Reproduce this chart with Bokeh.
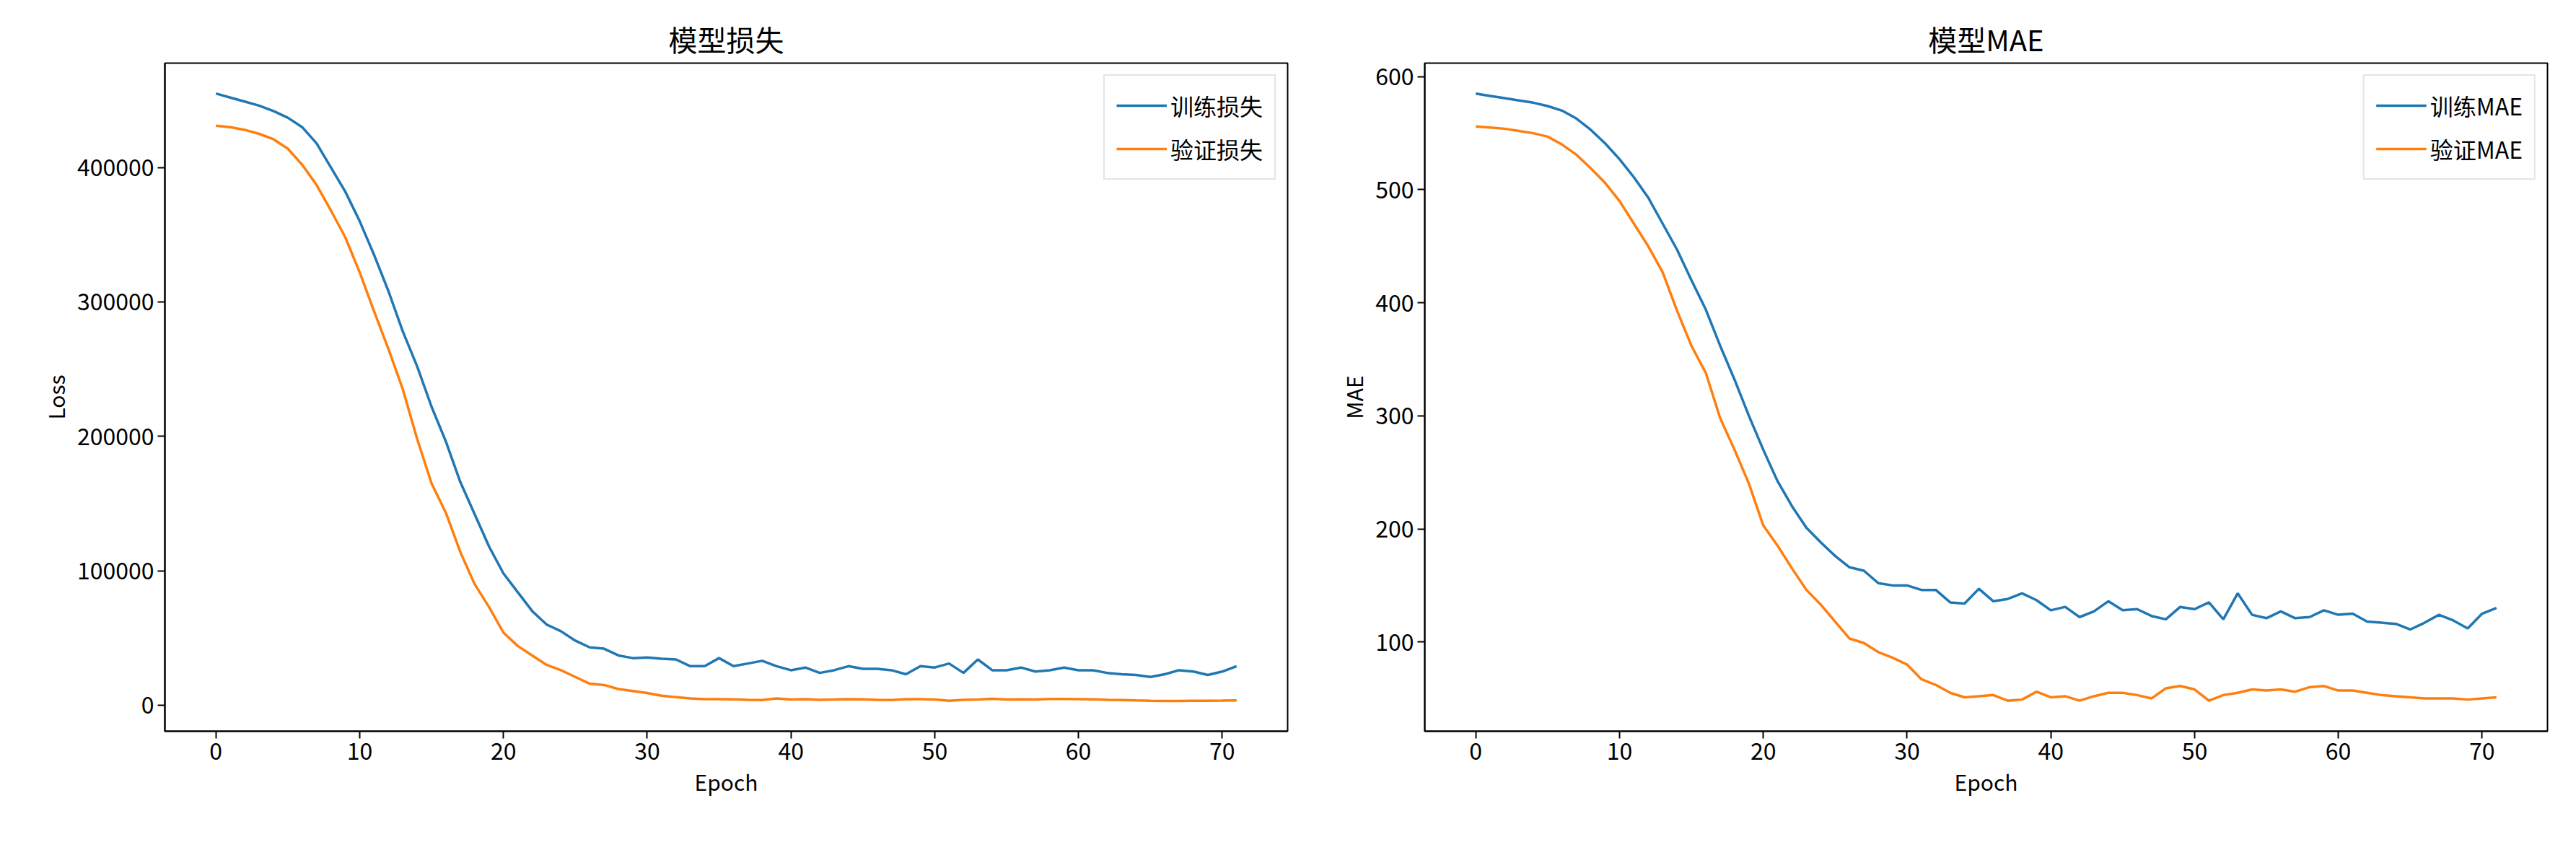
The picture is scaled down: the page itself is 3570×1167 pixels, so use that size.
from bokeh.plotting import figure
from bokeh.layouts import row
from bokeh.models import Range1d, FixedTicker, BasicTickFormatter
from bokeh.embed import file_html
from bokeh.resources import INLINE

epochs = list(range(72))

train_loss = [455000, 452000, 449000, 446000, 442000, 437000, 430000, 418000, 400000, 382000,
              360000, 335000, 308000, 278000, 252000, 222000, 196000, 166000, 142000, 118000,
              98000, 84000, 70000, 60000, 55000, 48000, 43000, 42000, 37000, 35000,
              35500, 34500, 34000, 29000, 29000, 35000, 29000, 31000, 33000, 29000,
              26000, 28000, 24000, 26000, 29000, 27000, 27000, 26000, 23000, 29000,
              28000, 31000, 24000, 34000, 26000, 26000, 28000, 25000, 26000, 28000,
              26000, 26000, 24000, 23000, 22500, 21000, 23000, 26000, 25000, 22500,
              25000, 29000]
val_loss = [431000, 430000, 428000, 425000, 421000, 414000, 402000, 387000, 368000, 348000,
            322000, 293000, 265000, 235000, 198000, 165000, 143000, 114000, 90000, 73000,
            54000, 44000, 37000, 30000, 26000, 21000, 16000, 15000, 12000, 10500,
            9000, 7000, 6000, 5000, 4500, 4500, 4300, 4000, 3800, 5000,
            4200, 4500, 4000, 4200, 4500, 4300, 4000, 3800, 4500, 4500,
            4200, 3300, 4000, 4200, 4800, 4200, 4300, 4200, 4600, 4600,
            4500, 4400, 4000, 3800, 3500, 3300, 3200, 3200, 3300, 3300,
            3400, 3600]
train_mae = [585, 583, 581, 579, 577, 574, 570, 563, 553, 541,
             527, 511, 493, 470, 447, 420, 394, 362, 332, 300,
             270, 242, 220, 201, 188, 176, 166, 163, 152, 150,
             150, 146, 146, 135, 134, 147, 136, 138, 143, 137,
             128, 131, 122, 127, 136, 128, 129, 123, 120, 131,
             129, 135, 120, 143, 124, 121, 127, 121, 122, 128,
             124, 125, 118, 117, 116, 111, 117, 124, 119, 112,
             125, 130]
val_mae = [556, 555, 554, 552, 550, 547, 540, 531, 519, 506,
           490, 470, 450, 427, 393, 362, 338, 298, 270, 240,
           203, 185, 165, 146, 133, 118, 103, 99, 91, 86,
           80, 67, 62, 55, 51, 52, 53, 48, 49, 56,
           51, 52, 48, 52, 55, 55, 53, 50, 59, 61,
           58, 48, 53, 55, 58, 57, 58, 56, 60, 61,
           57, 57, 55, 53, 52, 51, 50, 50, 50, 49,
           50, 51]

FONT = "Noto Sans CJK SC"


def make_fig(title, ylabel, y_range, yticks, left, right, s1, s2, n1, n2):
    p = figure(title=title, output_backend="svg", toolbar_location=None,
               frame_width=1556, frame_height=926,
               min_border_left=left, min_border_right=right,
               min_border_top=87, min_border_bottom=120,
               x_range=Range1d(-3.55, 74.55), y_range=Range1d(*y_range))
    p.line(epochs, s1, color="#1f77b4", line_width=3.5, legend_label=n1)
    p.line(epochs, s2, color="#ff7f0e", line_width=3.5, legend_label=n2)
    p.title.align = "center"
    p.title.text_font = FONT
    p.title.text_font_size = "40px"
    p.title.text_font_style = "normal"
    p.title.text_color = "black"
    p.xgrid.visible = False
    p.ygrid.visible = False
    p.outline_line_color = "black"
    p.outline_line_width = 2
    p.outline_line_alpha = 1
    p.xaxis.ticker = FixedTicker(ticks=list(range(0, 71, 10)))
    p.yaxis.ticker = FixedTicker(ticks=yticks)
    p.yaxis.formatter = BasicTickFormatter(use_scientific=False)
    p.xaxis.axis_label = "Epoch"
    p.yaxis.axis_label = ylabel
    for ax in (p.xaxis, p.yaxis):
        ax.axis_label_text_font = FONT
        ax.axis_label_text_font_size = "30px"
        ax.axis_label_text_font_style = "normal"
        ax.axis_label_text_color = "black"
        ax.major_label_text_font = FONT
        ax.major_label_text_font_size = "32px"
        ax.major_label_text_color = "black"
        ax.major_tick_out = 10
        ax.major_tick_in = 0
        ax.minor_tick_out = 0
        ax.minor_tick_in = 0
        ax.axis_line_width = 2
        ax.axis_line_color = "black"
        ax.major_tick_line_width = 2
        ax.major_tick_line_color = "black"
    p.legend.location = "top_right"
    p.legend.label_text_font = FONT
    p.legend.label_text_font_size = "32px"
    p.legend.label_text_color = "black"
    p.legend.border_line_color = "#cccccc"
    p.legend.border_line_width = 2
    p.legend.glyph_width = 70
    p.legend.label_height = 50
    p.legend.glyph_height = 50
    p.legend.spacing = 10
    p.legend.padding = 16
    p.legend.margin = 16
    return p


p1 = make_fig("模型损失", "Loss", (-19400, 477600), [0, 100000, 200000, 300000, 400000],
              228, 16, train_loss, val_loss, "训练损失", "验证损失")
p2 = make_fig("模型MAE", "MAE", (21, 612), [100, 200, 300, 400, 500, 600],
              174, 20, train_mae, val_mae, "训练MAE", "验证MAE")

layout = row(p1, p2, spacing=0)
open("out.html", "w").write(file_html(layout, INLINE))
